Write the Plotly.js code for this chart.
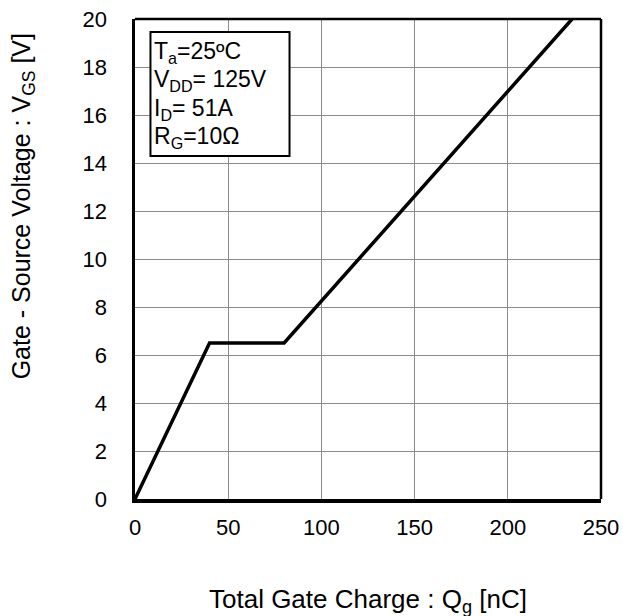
<!DOCTYPE html>
<html>
<head>
<meta charset="utf-8">
<script src="https://cdn.plot.ly/plotly-3.0.1.min.js"></script>
<style>html,body{margin:0;padding:0;background:#fff;}#chart{width:623px;height:616px;}</style>
</head>
<body>
<div id="chart"></div>
<script>
// Data
var qg = [0, 40, 80, 234.5];        // Total gate charge [nC]
var vgs = [0, 6.5, 6.5, 20];        // Gate-source voltage [V]
var xTicks = [0, 50, 100, 150, 200, 250];
var yTicks = [0, 2, 4, 6, 8, 10, 12, 14, 16, 18, 20];
var conditionLines = ["T<sub>a</sub>=25ºC", "V<sub>DD</sub>= 125V", "I<sub>D</sub>= 51A", "R<sub>G</sub>=10Ω"];
var xTitle = "Total Gate Charge : Q<sub>g</sub> [nC]";
var yTitle = "Gate - Source Voltage : V<sub>GS</sub> [V]";

var FONT = "Liberation Sans, Arial, sans-serif";

var trace = {
  x: qg, y: vgs, type: "scatter", mode: "lines",
  line: {color: "#000", width: 3.5},
  hoverinfo: "none", cliponaxis: false
};

var annotations = [];
for (var i = 0; i < conditionLines.length; i++) {
  annotations.push({
    text: conditionLines[i], xref: "x", yref: "y",
    x: 8.9, y: 18.62 - i * 1.19, xanchor: "left", yanchor: "middle",
    showarrow: false, font: {family: FONT, size: 23, color: "#000"}
  });
}
annotations.push({
  text: xTitle, xref: "paper", yref: "paper", x: 0.5, y: -0.212,
  xanchor: "center", yanchor: "middle", showarrow: false,
  font: {family: FONT, size: 26, color: "#000"}
});
annotations.push({
  text: yTitle, xref: "paper", yref: "paper", x: -0.24, y: 0.61,
  xanchor: "center", yanchor: "middle", textangle: -90, showarrow: false,
  font: {family: FONT, size: 25, color: "#000"}
});

var layout = {
  width: 623, height: 616,
  margin: {l: 135, r: 22, t: 19, b: 117},
  paper_bgcolor: "#fff", plot_bgcolor: "#fff",
  showlegend: false,
  font: {family: FONT, size: 22, color: "#000"},
  xaxis: {
    range: [0, 250], tickvals: xTicks, ticktext: xTicks.map(String),
    showgrid: true, gridcolor: "#8c8c8c", gridwidth: 1, zeroline: false,
    showline: true, linecolor: "#000", linewidth: 3.5, mirror: false,
    ticks: "", ticklabelstandoff: 6,
    tickfont: {family: FONT, size: 22, color: "#000"}
  },
  yaxis: {
    range: [0, 20], tickvals: yTicks, ticktext: yTicks.map(String),
    showgrid: true, gridcolor: "#8c8c8c", gridwidth: 1, zeroline: false,
    showline: true, linecolor: "#000", linewidth: 3.5, mirror: false,
    ticks: "", ticklabelstandoff: 20,
    tickfont: {family: FONT, size: 22, color: "#000"}
  },
  shapes: [
    {type: "line", xref: "paper", yref: "paper", x0: 0, x1: 1, y0: 1, y1: 1, line: {color: "#000", width: 2.5}},
    {type: "line", xref: "paper", yref: "paper", x0: 1, x1: 1, y0: 0, y1: 1, line: {color: "#000", width: 2.5}},
    {type: "rect", xref: "x", yref: "y", x0: 8.3, x1: 82.9, y0: 14.29, y1: 19.46,
     fillcolor: "#fff", line: {color: "#000", width: 2}, layer: "above"}
  ],
  annotations: annotations
};

Plotly.newPlot("chart", [trace], layout, {displayModeBar: false, staticPlot: true});
</script>
</body>
</html>
